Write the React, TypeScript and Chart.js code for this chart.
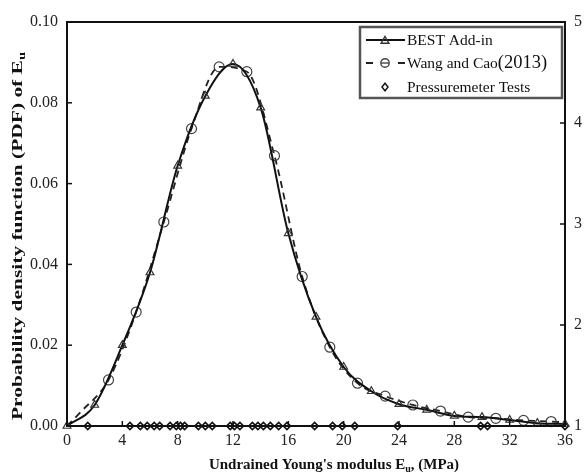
import React, { useEffect, useRef } from 'react';
import { Chart, registerables } from 'chart.js';

Chart.register(...registerables);

// ---- data ----
const bestX = [0, 2, 4, 6, 8, 10, 12, 14, 16, 18, 20, 22, 24, 26, 28, 30, 32, 34, 36];
const bestPdf = [0, 0.0052, 0.02, 0.038, 0.0644, 0.0817, 0.0896, 0.0788, 0.0477, 0.027, 0.0146, 0.0086, 0.0054, 0.004, 0.0025, 0.0022, 0.0015, 0.0007, 0.0005];

const wangX = [0, 1, 3, 5, 7, 9, 11, 13, 15, 17, 19, 21, 23, 25, 27, 29, 31, 33, 35, 36];
const wangPdf = [0, 0.0035, 0.0114, 0.0282, 0.0505, 0.0736, 0.0889, 0.0877, 0.0669, 0.037, 0.0195, 0.0106, 0.0074, 0.0052, 0.0037, 0.0022, 0.0019, 0.0014, 0.0011, 0.0009];

const pmtX = [1.5, 4.55, 5.3, 5.8, 6.3, 6.7, 7.45, 7.9, 8.2, 8.5, 9.5, 10.0, 10.5, 11.8, 12.1, 12.5, 13.4, 13.8, 14.2, 14.7, 15.3, 15.9, 17.9, 19.2, 19.9, 20.8, 23.9, 29.9, 30.4, 36];

const seriesLabels = ['BEST Add-in', 'Wang and Cao', 'Pressuremeter Tests'];
const wangYearLabel = '(2013)';

const xTitle = ["Undrained Young's modulus E", 'u', ', (MPa)'];
const yTitle = ['Probability density function (PDF) of E', 'u'];

const FONT = '"Liberation Serif", "Times New Roman", Times, serif';

function drawMarker(ctx: CanvasRenderingContext2D, style: string, x: number, y: number, r: number) {
  ctx.beginPath();
  if (style === 'triangle') {
    let rad = 0;
    ctx.moveTo(x + Math.sin(rad) * r, y - Math.cos(rad) * r);
    rad += (2 * Math.PI) / 3;
    ctx.lineTo(x + Math.sin(rad) * r, y - Math.cos(rad) * r);
    rad += (2 * Math.PI) / 3;
    ctx.lineTo(x + Math.sin(rad) * r, y - Math.cos(rad) * r);
    ctx.closePath();
  } else if (style === 'rectRot') {
    ctx.moveTo(x, y - r);
    ctx.lineTo(x + r * 0.8, y);
    ctx.lineTo(x, y + r);
    ctx.lineTo(x - r * 0.8, y);
    ctx.closePath();
  } else {
    ctx.arc(x, y, r, 0, Math.PI * 2);
  }
  ctx.stroke();
}

function drawSubscripted(ctx: CanvasRenderingContext2D, parts: string[], x: number, y: number, main: string, sub: string) {
  let cx = x;
  parts.forEach((p, i) => {
    const isSub = i % 2 === 1;
    ctx.font = isSub ? sub : main;
    ctx.fillText(p, cx, isSub ? y + 3 : y);
    cx += ctx.measureText(p).width;
  });
}

function measureParts(ctx: CanvasRenderingContext2D, parts: string[], main: string, sub: string) {
  let w = 0;
  parts.forEach((p, i) => {
    ctx.font = i % 2 === 1 ? sub : main;
    w += ctx.measureText(p).width;
  });
  return w;
}

const framePlugin = {
  id: 'frameTicks',
  afterDatasetsDraw(chart: any) {
    const ctx = chart.ctx as CanvasRenderingContext2D;
    const { left, right, top, bottom } = chart.chartArea;
    ctx.save();
    ctx.strokeStyle = '#111';
    ctx.lineWidth = 2;
    ctx.strokeRect(left, top, right - left, bottom - top);
    ctx.lineWidth = 1.5;
    const tl = 5;
    chart.scales.x.ticks.forEach((t: any) => {
      const px = chart.scales.x.getPixelForValue(t.value);
      ctx.beginPath();
      ctx.moveTo(px, bottom);
      ctx.lineTo(px, bottom - tl);
      ctx.stroke();
    });
    chart.scales.y.ticks.forEach((t: any) => {
      const py = chart.scales.y.getPixelForValue(t.value);
      ctx.beginPath();
      ctx.moveTo(left, py);
      ctx.lineTo(left + tl, py);
      ctx.stroke();
    });
    chart.scales.y2.ticks.forEach((t: any) => {
      const py = chart.scales.y2.getPixelForValue(t.value);
      ctx.beginPath();
      ctx.moveTo(right, py);
      ctx.lineTo(right - tl, py);
      ctx.stroke();
    });
    ctx.restore();
  },
};

const titlesPlugin = {
  id: 'axisTitles',
  afterDraw(chart: any) {
    const ctx = chart.ctx as CanvasRenderingContext2D;
    ctx.save();
    ctx.fillStyle = '#111';
    ctx.textBaseline = 'alphabetic';
    ctx.textAlign = 'left';
    // x title
    const main = 'bold 15px ' + FONT;
    const sub = 'bold 10px ' + FONT;
    const wx = measureParts(ctx, xTitle, main, sub);
    drawSubscripted(ctx, xTitle, 334 - wx / 2, 469, main, sub);
    // y title (rotated, stretched along its length)
    const ymain = 'bold 14px ' + FONT;
    const ysub = 'bold 9.5px ' + FONT;
    const wy = measureParts(ctx, yTitle, ymain, ysub);
    const target = 368;
    ctx.translate(22, 236);
    ctx.rotate(-Math.PI / 2);
    ctx.scale(target / wy, 1);
    drawSubscripted(ctx, yTitle, -wy / 2, 0, ymain, ysub);
    ctx.restore();
  },
};

const legendPlugin = {
  id: 'boxLegend',
  afterDraw(chart: any) {
    const ctx = chart.ctx as CanvasRenderingContext2D;
    const ds = chart.data.datasets;
    ctx.save();
    ctx.fillStyle = '#fff';
    ctx.fillRect(360, 27, 202, 71);
    ctx.strokeStyle = '#555';
    ctx.lineWidth = 2.5;
    ctx.strokeRect(360, 27, 202, 71);
    const rows = [40, 63, 87];
    const x0 = 366;
    const x1 = 405;
    const mx = 385;
    ctx.textBaseline = 'middle';
    ctx.textAlign = 'left';
    ctx.fillStyle = '#111';
    ds.forEach((d: any, i: number) => {
      const y = rows[i];
      ctx.strokeStyle = d.borderColor;
      if (d.showLine !== false) {
        ctx.lineWidth = d.borderWidth;
        ctx.beginPath();
        if (d.borderDash) {
          ctx.moveTo(x0, y);
          ctx.lineTo(x0 + 7, y);
          ctx.moveTo(x1 - 7, y);
          ctx.lineTo(x1, y);
        } else {
          ctx.moveTo(x0, y);
          ctx.lineTo(x1, y);
        }
        ctx.stroke();
      }
      ctx.strokeStyle = d.pointBorderColor;
      ctx.lineWidth = 1.4;
      if (d.pointStyle === 'triangle') {
        drawMarker(ctx, 'triangle', mx, y + 1, 4.5);
      } else if (d.pointStyle === 'circle') {
        drawMarker(ctx, 'circle', mx, y, 4.2);
        ctx.beginPath();
        ctx.moveTo(mx - 4, y);
        ctx.lineTo(mx + 4, y);
        ctx.stroke();
      } else {
        drawMarker(ctx, 'rectRot', mx, y, 3.8);
      }
      ctx.fillStyle = '#111';
      ctx.font = '15.5px ' + FONT;
      ctx.fillText(d.label, 407, y + 1);
      if (i === 1) {
        const w = ctx.measureText(d.label).width;
        ctx.font = '18.5px ' + FONT;
        ctx.fillText(wangYearLabel, 407 + w, y);
      }
    });
    ctx.restore();
  },
};

export default function App() {
  const canvasRef = useRef<HTMLCanvasElement | null>(null);

  useEffect(() => {
    if (!canvasRef.current) return;
    const tickFont = { family: FONT, size: 16 };
    const chart = new Chart(canvasRef.current, {
      type: 'line',
      data: {
        datasets: [
          {
            label: seriesLabels[0],
            data: bestX.map((x, i) => ({ x, y: bestPdf[i] })),
            borderColor: '#111',
            borderWidth: 2,
            pointStyle: 'triangle',
            pointRadius: 4.5,
            pointBorderColor: '#333',
            pointBackgroundColor: 'rgba(0,0,0,0)',
            pointBorderWidth: 1.2,
            cubicInterpolationMode: 'monotone',
            clip: false,
            yAxisID: 'y',
          },
          {
            label: seriesLabels[1],
            data: wangX.map((x, i) => ({ x, y: wangPdf[i] })),
            borderColor: '#222',
            borderWidth: 1.8,
            borderDash: [7, 5],
            pointStyle: 'circle',
            pointRadius: (c: any) => (c.raw && c.raw.x % 2 === 1 && c.raw.x > 1 ? 5 : 0),
            pointBorderColor: '#444',
            pointBackgroundColor: 'rgba(0,0,0,0)',
            pointBorderWidth: 1.2,
            cubicInterpolationMode: 'monotone',
            clip: false,
            yAxisID: 'y',
          },
          {
            label: seriesLabels[2],
            data: pmtX.map((x) => ({ x, y: 0 })),
            showLine: false,
            borderColor: '#111',
            pointStyle: 'rectRot',
            pointRadius: 3.6,
            pointBorderColor: '#111',
            pointBackgroundColor: 'rgba(255,255,255,0)',
            pointBorderWidth: 1.6,
            clip: false,
            yAxisID: 'y',
          },
        ],
      } as any,
      options: {
        animation: false,
        responsive: false,
        devicePixelRatio: 1,
        layout: { padding: { top: 22, left: 0, right: 0, bottom: 0 } },
        plugins: {
          legend: { display: false },
          tooltip: { enabled: false },
        },
        scales: {
          x: {
            type: 'linear',
            min: 0,
            max: 36,
            ticks: { stepSize: 4, font: tickFont, color: '#222', padding: 5 },
            grid: { display: false, drawTicks: false },
            border: { display: false },
            afterFit: (s: any) => {
              s.height = 48;
            },
          },
          y: {
            type: 'linear',
            position: 'left',
            min: 0,
            max: 0.1,
            ticks: {
              stepSize: 0.02,
              font: tickFont,
              color: '#222',
              padding: 9,
              callback: (v: any) => Number(v).toFixed(2),
            },
            grid: { display: false, drawTicks: false },
            border: { display: false },
            afterFit: (s: any) => {
              s.width = 67;
            },
          },
          y2: {
            type: 'linear',
            position: 'right',
            min: 1,
            max: 5,
            ticks: { stepSize: 1, font: tickFont, color: '#222', padding: 9 },
            grid: { display: false, drawTicks: false },
            border: { display: false },
            afterFit: (s: any) => {
              s.width = 19;
            },
          },
        },
      } as any,
      plugins: [framePlugin, titlesPlugin, legendPlugin],
    });
    return () => chart.destroy();
  }, []);

  return (
    <div style={{ position: 'fixed', left: 0, top: 0, width: 584, height: 474, background: '#fff' }}>
      <canvas ref={canvasRef} width={584} height={474} />
    </div>
  );
}
